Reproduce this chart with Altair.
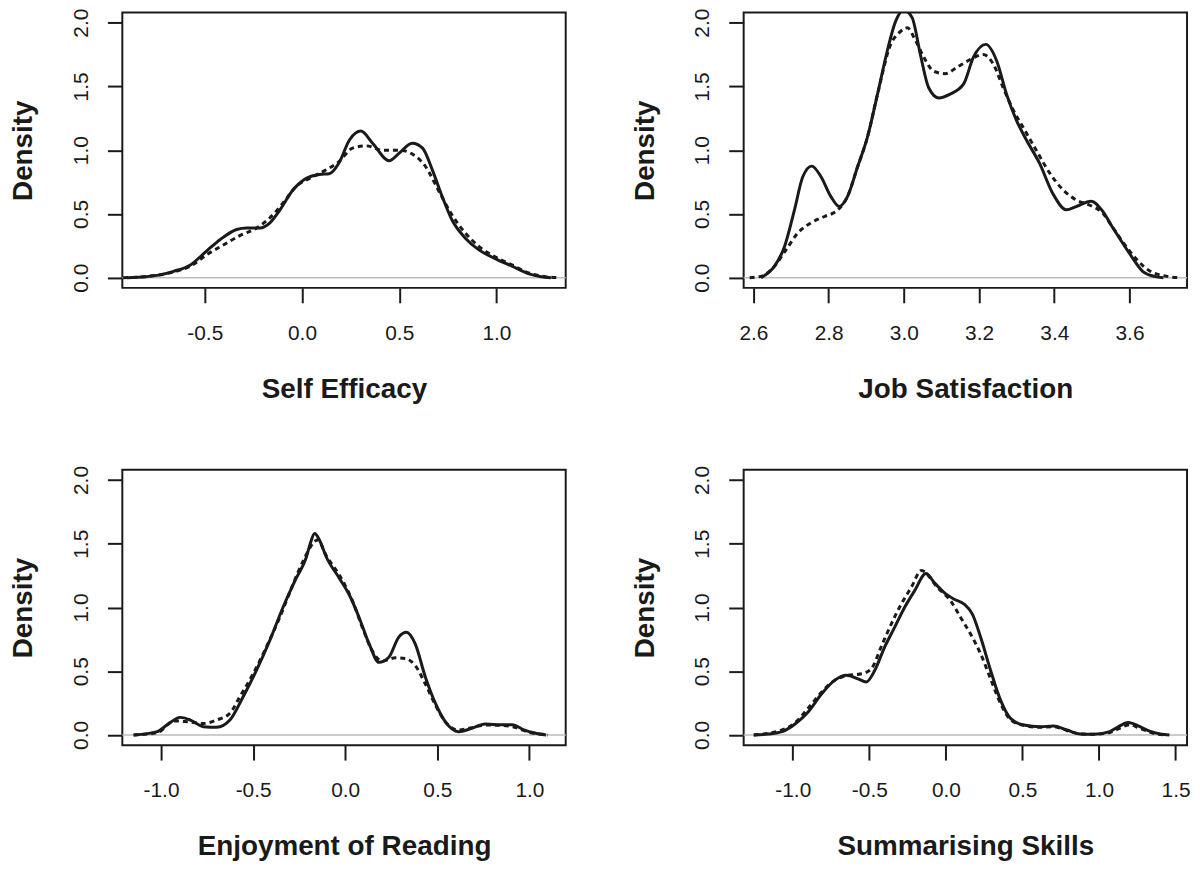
import altair as alt
import pandas as pd

# ---------------- data ----------------
# Panel 1: Self Efficacy
se_solid_x = [-0.90, -0.80, -0.745, -0.66, -0.574, -0.49, -0.42, -0.336, -0.285, -0.216, -0.165, -0.114,
              -0.046, 0.022, 0.09, 0.14, 0.19, 0.244, 0.303, 0.363, 0.448, 0.50, 0.567, 0.62, 0.67,
              0.72, 0.77, 0.84, 0.908, 0.985, 1.08, 1.167, 1.23, 1.28]
se_solid_y = [0.0, 0.008, 0.018, 0.05, 0.10, 0.21, 0.30, 0.378, 0.39, 0.39, 0.43, 0.53,
              0.69, 0.78, 0.81, 0.815, 0.90, 1.08, 1.15, 1.055, 0.917, 0.977, 1.055, 1.016, 0.846,
              0.64, 0.456, 0.31, 0.22, 0.155, 0.09, 0.03, 0.008, 0.0]
se_dash_x = [-0.92, -0.80, -0.66, -0.574, -0.49, -0.40, -0.32, -0.233, -0.165, -0.097, -0.03, 0.04,
             0.124, 0.19, 0.26, 0.33, 0.414, 0.50, 0.567, 0.636, 0.70, 0.77, 0.84, 0.908, 0.985,
             1.08, 1.17, 1.25, 1.32]
se_dash_y = [0.0, 0.01, 0.045, 0.09, 0.18, 0.26, 0.33, 0.39, 0.47, 0.586, 0.716, 0.78,
             0.846, 0.91, 1.016, 1.034, 1.00, 1.00, 0.97, 0.87, 0.69, 0.495, 0.35, 0.247, 0.17,
             0.10, 0.035, 0.008, 0.0]

# Panel 2: Job Satisfaction
js_solid_x = [2.62, 2.656, 2.683, 2.709, 2.731, 2.755, 2.78, 2.806, 2.828, 2.85, 2.877, 2.903, 2.93,
              2.956, 2.978, 3.0, 3.022, 3.044, 3.066, 3.093, 3.123, 3.159, 3.185, 3.218, 3.247,
              3.273, 3.30, 3.326, 3.361, 3.396, 3.432, 3.458, 3.498, 3.529, 3.554, 3.60, 3.635,
              3.666, 3.69]
js_solid_y = [0.0, 0.09, 0.247, 0.53, 0.79, 0.875, 0.79, 0.636, 0.558, 0.636, 0.87, 1.10, 1.44,
              1.78, 2.01, 2.10, 2.04, 1.75, 1.49, 1.41, 1.44, 1.52, 1.73, 1.83, 1.70,
              1.44, 1.23, 1.08, 0.896, 0.66, 0.532, 0.558, 0.60, 0.52, 0.40, 0.19, 0.05,
              0.01, 0.0]
js_dash_x = [2.59, 2.62, 2.656, 2.687, 2.718, 2.753, 2.789, 2.824, 2.85, 2.877, 2.903, 2.93, 2.965,
             2.987, 3.009, 3.031, 3.053, 3.079, 3.11, 3.141, 3.176, 3.211, 3.238, 3.264, 3.29,
             3.317, 3.352, 3.388, 3.423, 3.458, 3.493, 3.529, 3.554, 3.60, 3.65, 3.70, 3.73]
js_dash_y = [0.0, 0.01, 0.09, 0.22, 0.35, 0.43, 0.48, 0.53, 0.636, 0.87, 1.10, 1.44, 1.83,
             1.92, 1.96, 1.86, 1.73, 1.62, 1.60, 1.65, 1.71, 1.75, 1.675, 1.49, 1.32,
             1.18, 1.00, 0.82, 0.69, 0.61, 0.57, 0.506, 0.40, 0.21, 0.06, 0.01, 0.0]

# Panel 3: Enjoyment of Reading
er_solid_x = [-1.147, -1.02, -0.968, -0.896, -0.84, -0.77, -0.698, -0.626, -0.554, -0.482, -0.41,
              -0.338, -0.266, -0.212, -0.19, -0.166, -0.14, -0.104, -0.032, 0.022, 0.076, 0.13,
              0.183, 0.237, 0.29, 0.333, 0.38, 0.435, 0.49, 0.543, 0.615, 0.687, 0.759, 0.85,
              0.907, 0.97, 1.03, 1.09]
er_solid_y = [0.0, 0.026, 0.078, 0.138, 0.117, 0.065, 0.06, 0.117, 0.30, 0.506, 0.74,
              1.0, 1.23, 1.39, 1.50, 1.58, 1.53, 1.40, 1.23, 1.10, 0.92, 0.714,
              0.57, 0.61, 0.766, 0.805, 0.714, 0.455, 0.247, 0.104, 0.026, 0.052, 0.086, 0.08,
              0.08, 0.04, 0.015, 0.0]
er_dash_x = [-1.15, -1.02, -0.93, -0.86, -0.77, -0.698, -0.626, -0.572, -0.50, -0.428, -0.356,
             -0.284, -0.23, -0.15, -0.104, -0.014, 0.04, 0.094, 0.147, 0.20, 0.273, 0.327, 0.38,
             0.435, 0.49, 0.543, 0.615, 0.687, 0.759, 0.85, 0.92, 1.0, 1.1]
er_dash_y = [0.0, 0.018, 0.11, 0.104, 0.09, 0.117, 0.17, 0.30, 0.48, 0.69, 0.92,
             1.18, 1.36, 1.53, 1.41, 1.21, 1.05, 0.84, 0.66, 0.58, 0.605, 0.60, 0.545,
             0.40, 0.234, 0.104, 0.039, 0.057, 0.078, 0.075, 0.06, 0.02, 0.0]

# Panel 4: Summarising Skills
ss_solid_x = [-1.255, -1.158, -1.07, -0.985, -0.90, -0.81, -0.725, -0.65, -0.574, -0.52, -0.465,
              -0.40, -0.335, -0.27, -0.205, -0.13, -0.076, -0.011, 0.054, 0.119, 0.173, 0.227,
              0.292, 0.357, 0.422, 0.509, 0.617, 0.703, 0.79, 0.877, 0.963, 1.07, 1.12, 1.19,
              1.26, 1.33, 1.40, 1.46]
ss_solid_y = [0.0, 0.008, 0.026, 0.086, 0.18, 0.325, 0.43, 0.468, 0.44, 0.416, 0.506,
              0.69, 0.844, 1.0, 1.13, 1.267, 1.195, 1.117, 1.065, 1.026, 0.948, 0.766,
              0.506, 0.273, 0.13, 0.078, 0.065, 0.07, 0.039, 0.008, 0.005, 0.026, 0.06, 0.098,
              0.07, 0.03, 0.008, 0.0]
ss_dash_x = [-1.255, -1.07, -0.985, -0.90, -0.81, -0.725, -0.64, -0.55, -0.487, -0.42, -0.357,
             -0.292, -0.227, -0.16, -0.054, 0.032, 0.097, 0.162, 0.227, 0.292, 0.357, 0.422,
             0.509, 0.617, 0.703, 0.79, 0.877, 0.963, 1.07, 1.13, 1.20, 1.27, 1.35, 1.43]
ss_dash_y = [0.0, 0.039, 0.096, 0.21, 0.338, 0.43, 0.468, 0.48, 0.52, 0.70, 0.87,
             1.026, 1.156, 1.29, 1.156, 1.05, 0.92, 0.79, 0.636, 0.44, 0.247, 0.12,
             0.075, 0.06, 0.065, 0.035, 0.008, 0.005, 0.02, 0.05, 0.08, 0.05, 0.015, 0.0]

titles = ["Self Efficacy", "Job Satisfaction", "Enjoyment of Reading", "Summarising Skills"]
x_domains = [[-0.924, 1.356], [2.574, 3.753], [-1.210, 1.197], [-1.321, 1.575]]
x_ticks = [[-0.5, 0.0, 0.5, 1.0],
           [2.6, 2.8, 3.0, 3.2, 3.4, 3.6],
           [-1.0, -0.5, 0.0, 0.5, 1.0],
           [-1.0, -0.5, 0.0, 0.5, 1.0, 1.5]]
y_ticks = [0.0, 0.5, 1.0, 1.5, 2.0]
y_domain = [-0.08, 2.08]

INK = "#1a1a1a"
LABEL_EXPR = "(datum.value < 0 ? '-' : '') + format(abs(datum.value), '.1f')"


def panel(title, sx, sy, dx, dy, xdom, xt):
    solid = pd.DataFrame({"x": sx, "y": sy})
    dashed = pd.DataFrame({"x": dx, "y": dy})
    zero = pd.DataFrame({"y": [0.0]})
    xenc = alt.X("x:Q", scale=alt.Scale(domain=xdom, nice=False, zero=False),
                 axis=alt.Axis(values=xt, title=title, labelExpr=LABEL_EXPR))
    yenc = alt.Y("y:Q", scale=alt.Scale(domain=y_domain, nice=False, zero=False),
                 axis=alt.Axis(values=y_ticks, title="Density", labelExpr=LABEL_EXPR))
    base_zero = alt.Chart(zero).mark_rule(color="#bdbdbd", strokeWidth=1.5).encode(y=yenc)
    dash_line = alt.Chart(dashed).mark_line(
        color=INK, strokeWidth=3, strokeDash=[5, 4], interpolate="monotone", clip=True
    ).encode(x=xenc, y=yenc)
    solid_line = alt.Chart(solid).mark_line(
        color=INK, strokeWidth=3, interpolate="monotone", clip=True
    ).encode(x=xenc, y=yenc)
    return alt.layer(base_zero, dash_line, solid_line).properties(width=446, height=277)


p1 = panel(titles[0], se_solid_x, se_solid_y, se_dash_x, se_dash_y, x_domains[0], x_ticks[0])
p2 = panel(titles[1], js_solid_x, js_solid_y, js_dash_x, js_dash_y, x_domains[1], x_ticks[1])
p3 = panel(titles[2], er_solid_x, er_solid_y, er_dash_x, er_dash_y, x_domains[2], x_ticks[2])
p4 = panel(titles[3], ss_solid_x, ss_solid_y, ss_dash_x, ss_dash_y, x_domains[3], x_ticks[3])

FONT = "Liberation Sans"

chart = alt.vconcat(
    alt.hconcat(p1, p2, spacing=62),
    alt.hconcat(p3, p4, spacing=62),
    spacing=60,
).properties(
    padding={"left": 0, "top": -4, "right": 0, "bottom": 0}
).configure_view(
    stroke=INK, strokeWidth=2
).configure_axisX(
    domain=False, grid=False,
    tickSize=15, tickWidth=2, tickColor=INK,
    labelFont=FONT, labelFontSize=21, labelColor=INK,
    labelBaseline="alphabetic", labelPadding=37,
    minExtent=60, maxExtent=60,
    titleFont=FONT, titleFontSize=28, titleFontWeight="bold", titleColor=INK,
    titleBaseline="alphabetic", titlePadding=50,
).configure_axisY(
    domain=False, grid=False,
    tickSize=15, tickWidth=2, tickColor=INK,
    labelFont=FONT, labelFontSize=21, labelColor=INK,
    labelAngle=270, labelAlign="center", labelBaseline="alphabetic", labelPadding=20,
    minExtent=60, maxExtent=60,
    titleFont=FONT, titleFontSize=28, titleFontWeight="bold", titleColor=INK,
    titleAngle=270, titleBaseline="alphabetic", titlePadding=31,
)

chart.save("out.html", embed_options={"renderer": "svg", "actions": False})
